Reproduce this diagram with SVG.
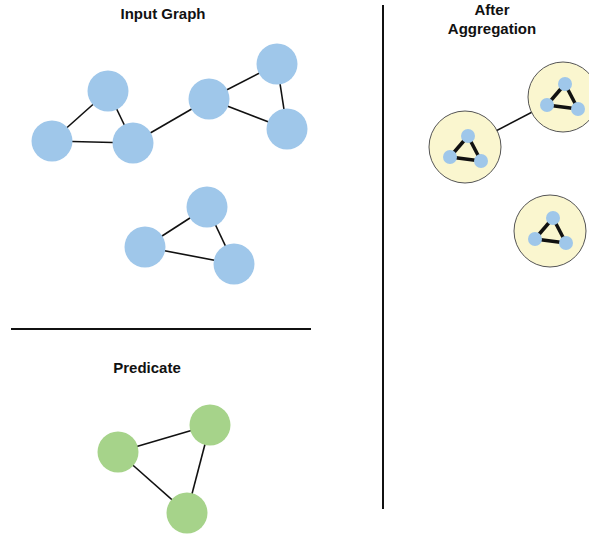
<svg xmlns="http://www.w3.org/2000/svg" width="589" height="535" viewBox="0 0 589 535">
  <style>
    .title { font-family: "Liberation Sans", Arial, sans-serif; font-size: 15px; font-weight: bold; fill: #111; text-anchor: middle; }
    .edge { stroke: #111; stroke-width: 1.6; fill: none; }
    .divider { stroke: #111; stroke-width: 2; }
    .node { fill: #9fc7ea; }
    .pred { fill: #a6d38a; }
    .super { fill: #faf6cf; stroke: #555; stroke-width: 1; }
    .mini-edge { stroke: #111; stroke-width: 3.5; }
    .mini { fill: #9fc7ea; }
  </style>
  <defs>
    <!-- collapsed triangle shown inside each aggregated node -->
    <g id="mini-triangle">
      <line class="mini-edge" x1="3" y1="-12" x2="-15" y2="9"/>
      <line class="mini-edge" x1="3" y1="-12" x2="16" y2="13"/>
      <line class="mini-edge" x1="-15" y1="9" x2="16" y2="13"/>
      <circle class="mini" cx="3" cy="-12" r="7"/>
      <circle class="mini" cx="-15" cy="9" r="7"/>
      <circle class="mini" cx="16" cy="13" r="7"/>
    </g>
  </defs>

  <rect width="589" height="535" fill="#fff"/>

  <!-- section headings -->
  <text class="title" x="163" y="19">Input Graph</text>
  <text class="title" x="147" y="373">Predicate</text>
  <text class="title" x="492" y="15">After</text>
  <text class="title" x="492" y="34">Aggregation</text>

  <!-- dividers -->
  <line class="divider" x1="11" y1="329" x2="311" y2="329"/>
  <line class="divider" x1="383" y1="5" x2="383" y2="509"/>

  <!-- connectors -->
  <g id="connectors">
    <line class="edge" x1="108" y1="91" x2="52" y2="141"/>
    <line class="edge" x1="108" y1="91" x2="133" y2="143"/>
    <line class="edge" x1="52" y1="141" x2="133" y2="143"/>
    <line class="edge" x1="133" y1="143" x2="209" y2="99"/>
    <line class="edge" x1="209" y1="99" x2="277" y2="64"/>
    <line class="edge" x1="209" y1="99" x2="287" y2="129"/>
    <line class="edge" x1="277" y1="64" x2="287" y2="129"/>

    <line class="edge" x1="207" y1="207" x2="145" y2="247"/>
    <line class="edge" x1="207" y1="207" x2="234" y2="264"/>
    <line class="edge" x1="145" y1="247" x2="234" y2="264"/>

    <line class="edge" x1="118" y1="452" x2="210" y2="425"/>
    <line class="edge" x1="118" y1="452" x2="187" y2="513"/>
    <line class="edge" x1="210" y1="425" x2="187" y2="513"/>

    <line class="edge" x1="465" y1="147" x2="563" y2="96"/>
  </g>

  <!-- input graph nodes -->
  <g id="n-a"><circle class="node" cx="108" cy="91" r="20.5"/></g>
  <g id="n-b"><circle class="node" cx="52" cy="141" r="20.5"/></g>
  <g id="n-c"><circle class="node" cx="133" cy="143" r="20.5"/></g>
  <g id="n-d"><circle class="node" cx="209" cy="99" r="20.5"/></g>
  <g id="n-e"><circle class="node" cx="277" cy="64" r="20.5"/></g>
  <g id="n-f"><circle class="node" cx="287" cy="129" r="20.5"/></g>
  <g id="n-g"><circle class="node" cx="207" cy="207" r="20.5"/></g>
  <g id="n-h"><circle class="node" cx="145" cy="247" r="20.5"/></g>
  <g id="n-i"><circle class="node" cx="234" cy="264" r="20.5"/></g>

  <!-- predicate nodes -->
  <g id="p-1"><circle class="pred" cx="118" cy="452" r="20.5"/></g>
  <g id="p-2"><circle class="pred" cx="210" cy="425" r="20.5"/></g>
  <g id="p-3"><circle class="pred" cx="187" cy="513" r="20.5"/></g>

  <!-- aggregated nodes -->
  <g id="agg-1">
    <circle class="super" cx="465" cy="147" r="36"/>
    <use href="#mini-triangle" x="465" y="148"/>
  </g>
  <g id="agg-2">
    <circle class="super" cx="563" cy="97" r="35"/>
    <use href="#mini-triangle" x="562" y="96"/>
  </g>
  <g id="agg-3">
    <circle class="super" cx="550" cy="231" r="36"/>
    <use href="#mini-triangle" x="550" y="230"/>
  </g>
</svg>
